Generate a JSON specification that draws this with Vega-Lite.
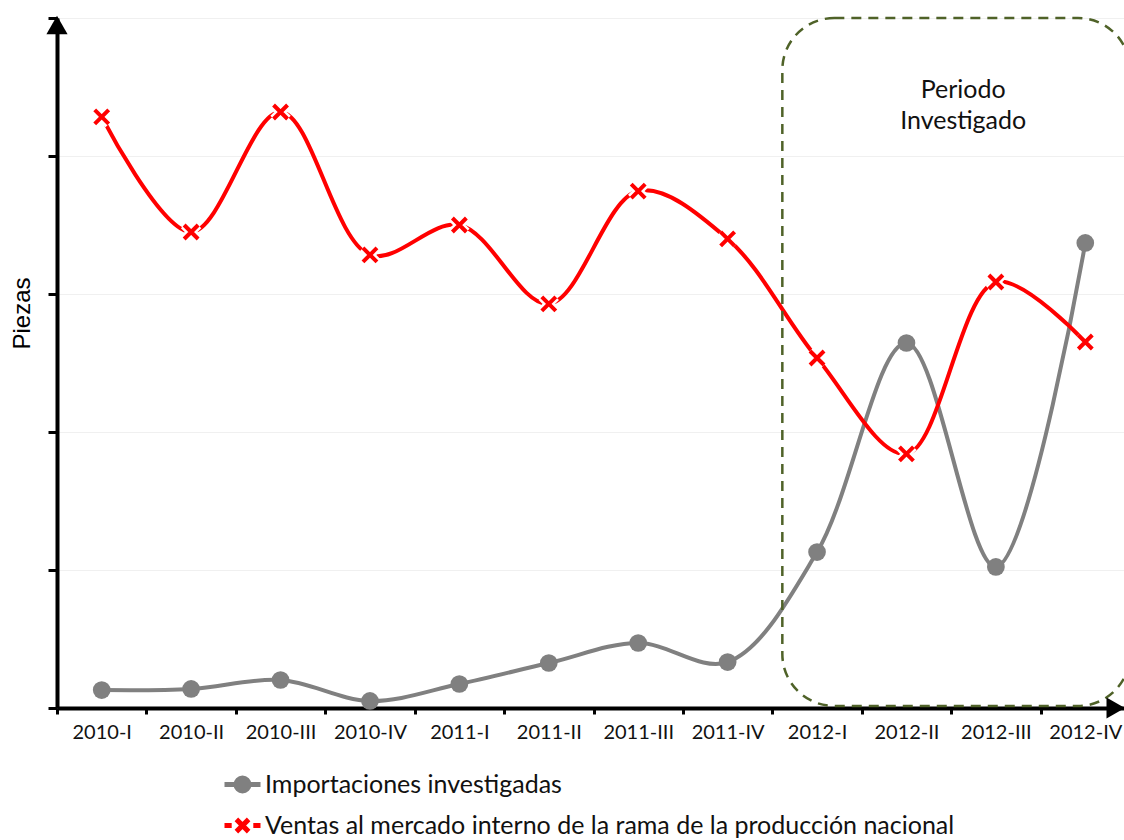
{
  "$schema": "https://vega.github.io/schema/vega-lite/v6.json",
  "width": 1073,
  "height": 690,
  "autosize": "none",
  "padding": {"left": 57, "top": 18, "right": 0, "bottom": 132},
  "background": "white",
  "config": {
    "view": {"stroke": null},
    "font": "Lato",
    "axisX": {
      "title": null, "labelAngle": 0, "domainColor": "black", "domainWidth": 4,
      "tickBand": "extent", "tickColor": "black", "tickWidth": 3, "tickSize": 6,
      "labelFontSize": 20, "labelColor": "#111111", "labelPadding": 8, "grid": false
    },
    "axisY": {
      "labels": false, "domainColor": "black", "domainWidth": 4, "tickColor": "black", "tickWidth": 3, "tickSize": 9,
      "grid": true, "gridColor": "#f0f0f0", "gridWidth": 1,
      "titleFont": "Liberation Sans", "titleFontSize": 24, "titleFontWeight": "normal",
      "titleColor": "black", "titleX": -35, "titleY": 295, "titleAngle": -90, "titleAlign": "center", "titleBaseline": "middle"
    }
  },
  "datasets": {
    "d": [
      {"periodo": "2010-I", "serie": "Importaciones investigadas", "valor": 130},
      {"periodo": "2010-II", "serie": "Importaciones investigadas", "valor": 138},
      {"periodo": "2010-III", "serie": "Importaciones investigadas", "valor": 203},
      {"periodo": "2010-IV", "serie": "Importaciones investigadas", "valor": 51},
      {"periodo": "2011-I", "serie": "Importaciones investigadas", "valor": 174},
      {"periodo": "2011-II", "serie": "Importaciones investigadas", "valor": 326},
      {"periodo": "2011-III", "serie": "Importaciones investigadas", "valor": 471},
      {"periodo": "2011-IV", "serie": "Importaciones investigadas", "valor": 333},
      {"periodo": "2012-I", "serie": "Importaciones investigadas", "valor": 1130},
      {"periodo": "2012-II", "serie": "Importaciones investigadas", "valor": 2645},
      {"periodo": "2012-III", "serie": "Importaciones investigadas", "valor": 1022},
      {"periodo": "2012-IV", "serie": "Importaciones investigadas", "valor": 3370},
      {"periodo": "2010-I", "serie": "Ventas al mercado interno de la rama de la producción nacional", "valor": 4283},
      {"periodo": "2010-II", "serie": "Ventas al mercado interno de la rama de la producción nacional", "valor": 3449},
      {"periodo": "2010-III", "serie": "Ventas al mercado interno de la rama de la producción nacional", "valor": 4319},
      {"periodo": "2010-IV", "serie": "Ventas al mercado interno de la rama de la producción nacional", "valor": 3283},
      {"periodo": "2011-I", "serie": "Ventas al mercado interno de la rama de la producción nacional", "valor": 3500},
      {"periodo": "2011-II", "serie": "Ventas al mercado interno de la rama de la producción nacional", "valor": 2928},
      {"periodo": "2011-III", "serie": "Ventas al mercado interno de la rama de la producción nacional", "valor": 3746},
      {"periodo": "2011-IV", "serie": "Ventas al mercado interno de la rama de la producción nacional", "valor": 3399},
      {"periodo": "2012-I", "serie": "Ventas al mercado interno de la rama de la producción nacional", "valor": 2536},
      {"periodo": "2012-II", "serie": "Ventas al mercado interno de la rama de la producción nacional", "valor": 1841},
      {"periodo": "2012-III", "serie": "Ventas al mercado interno de la rama de la producción nacional", "valor": 3087},
      {"periodo": "2012-IV", "serie": "Ventas al mercado interno de la rama de la producción nacional", "valor": 2652}
    ]
  },
  "layer": [
    {
      "data": {"name": "d"},
      "mark": {"type": "line", "strokeWidth": 4, "interpolate": "catmull-rom"},
      "encoding": {
        "x": {
          "field": "periodo", "type": "ordinal",
          "scale": {"type": "band", "paddingInner": 0, "paddingOuter": 0,
            "domain": ["2010-I","2010-II","2010-III","2010-IV","2011-I","2011-II","2011-III","2011-IV","2012-I","2012-II","2012-III","2012-IV"]},
          "axis": {"title": null}
        },
        "y": {
          "field": "valor", "type": "quantitative",
          "scale": {"domain": [0, 5000], "nice": false},
          "axis": {"values": [0, 1000, 2000, 3000, 4000, 5000], "title": "Piezas"}
        },
        "stroke": {
          "field": "serie", "type": "nominal",
          "scale": {"domain": ["Importaciones investigadas", "Ventas al mercado interno de la rama de la producción nacional"], "range": ["#808080", "#ff0000"]},
          "legend": {"title": null, "orient": "none", "legendX": 165, "legendY": 746, "direction": "vertical",
            "symbolSize": 1296, "symbolStrokeWidth": 5, "symbolOpacity": 1, "labelFontSize": 25, "labelColor": "#111111",
            "labelOffset": 2, "rowPadding": 4, "padding": 0, "labelLimit": 900,
            "encode": {"symbols": {"update": {
              "shape": {"signal": "datum.value === 'Importaciones investigadas' ? 'M-1,0L1,0M-0.36,0A0.36,0.36 0 1,0 0.36,0A0.36,0.36 0 1,0 -0.36,0Z' : 'M-1,0L-0.6,0M0.6,0L1,0M-0.34,-0.34L0.34,0.34M0.34,-0.34L-0.34,0.34'"},
              "fill": {"signal": "datum.value === 'Importaciones investigadas' ? '#808080' : '#ff0000'"},
              "strokeWidth": {"value": 5},
              "size": {"value": 1296}
            }}}
          }
        }
      }
    },
    {
      "data": {"values": [{}]},
      "mark": {"type": "rect", "fill": null, "fillOpacity": 0, "stroke": "#4f6228", "strokeWidth": 2.5, "strokeDash": [10, 7], "cornerRadius": 52, "xOffset": 10, "y2Offset": -2},
      "encoding": {
        "x": {"datum": "2012-I", "type": "ordinal", "bandPosition": 0},
        "x2": {"datum": "2012-IV", "bandPosition": 1},
        "y": {"datum": 5000, "type": "quantitative"},
        "y2": {"datum": 0}
      }
    },
    {
      "data": {"name": "d"},
      "transform": [{"filter": "datum.serie === 'Importaciones investigadas'"}],
      "mark": {"type": "point", "filled": true, "opacity": 1, "color": "#808080", "size": 314, "shape": "circle"},
      "encoding": {
        "x": {"field": "periodo", "type": "ordinal"},
        "y": {"field": "valor", "type": "quantitative"}
      }
    },
    {
      "data": {"name": "d"},
      "transform": [{"filter": "datum.serie !== 'Importaciones investigadas'"}],
      "mark": {"type": "point", "filled": false, "opacity": 1, "stroke": "white", "strokeWidth": 9, "size": 196, "shape": "M-1,-1L1,1M1,-1L-1,1"},
      "encoding": {
        "x": {"field": "periodo", "type": "ordinal"},
        "y": {"field": "valor", "type": "quantitative"}
      }
    },
    {
      "data": {"name": "d"},
      "transform": [{"filter": "datum.serie !== 'Importaciones investigadas'"}],
      "mark": {"type": "point", "filled": false, "opacity": 1, "stroke": "#ff0000", "strokeWidth": 4, "size": 196, "shape": "M-1,-1L1,1M1,-1L-1,1"},
      "encoding": {
        "x": {"field": "periodo", "type": "ordinal"},
        "y": {"field": "valor", "type": "quantitative"}
      }
    },
    {
      "data": {"values": [{"texto": "Periodo\nInvestigado"}]},
      "mark": {"type": "text", "lineBreak": "\n", "align": "center", "baseline": "middle", "fontSize": 25, "lineHeight": 31, "color": "#111111", "dx": 12},
      "encoding": {
        "x": {"datum": "2012-III", "type": "ordinal", "bandPosition": 0},
        "y": {"datum": 4480, "type": "quantitative"},
        "text": {"field": "texto"}
      }
    },
    {
      "data": {"values": [{}]},
      "mark": {"type": "point", "shape": "triangle-up", "filled": true, "color": "black", "opacity": 1, "size": 450, "yOffset": 7},
      "encoding": {
        "x": {"datum": "2010-I", "type": "ordinal", "bandPosition": 0},
        "y": {"datum": 5000, "type": "quantitative"}
      }
    },
    {
      "data": {"values": [{}]},
      "mark": {"type": "point", "shape": "triangle-right", "filled": true, "color": "black", "opacity": 1, "size": 450},
      "encoding": {
        "x": {"datum": "2012-IV", "type": "ordinal", "bandPosition": 0.84},
        "y": {"datum": 0, "type": "quantitative"}
      }
    }
  ]
}
